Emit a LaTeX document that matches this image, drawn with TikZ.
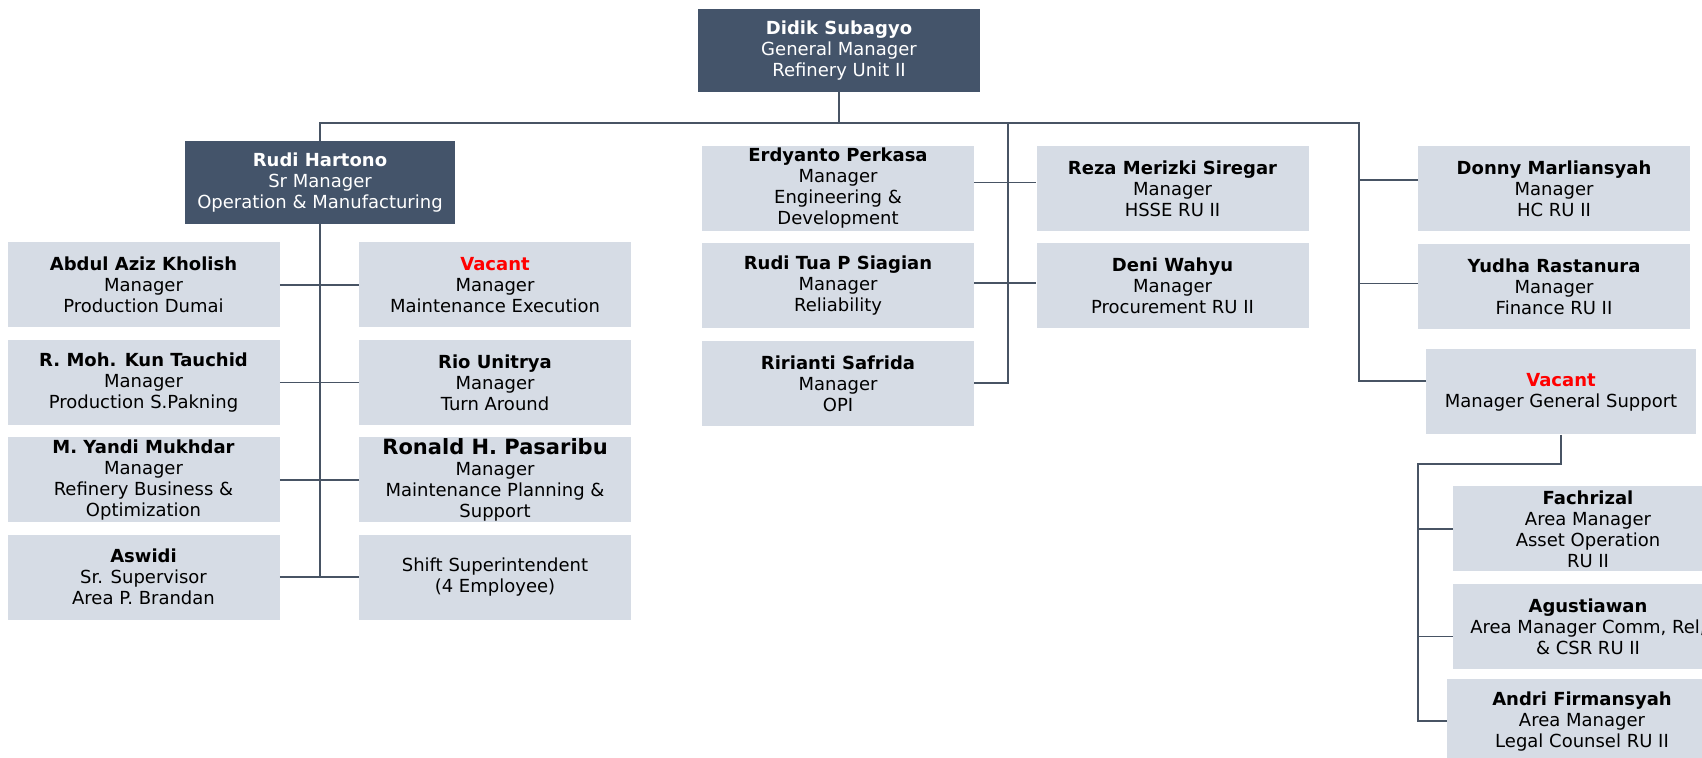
\documentclass[tikz,border=0pt]{standalone}
\usepackage{fontspec}
\setmainfont{DejaVu Sans}
\usepackage{xcolor}
\usetikzlibrary{positioning}
\definecolor{HeadFill}{RGB}{68,84,106}
\definecolor{PostFill}{RGB}{214,220,229}
\definecolor{LinkGray}{RGB}{72,84,100}
\definecolor{VacantRed}{RGB}{255,0,0}

\begin{document}
\begin{tikzpicture}[
  x=0.5pt, y=-0.5pt,
  node distance=5.8pt and 5pt,
  head/.style={
    rectangle,
    fill=HeadFill,
    text=white,
    align=center,
    inner sep=0pt,
    minimum width=135pt,
    minimum height=41.5pt,
    font=\fontsize{9}{10.5}\selectfont
  },
  post/.style={
    rectangle,
    fill=PostFill,
    align=center,
    inner sep=0pt,
    minimum width=136pt,
    minimum height=42.5pt,
    font=\fontsize{9}{10.5}\selectfont
  },
  link/.style={draw=LinkGray, line width=0.8pt}
]
\clip (0,0) rectangle (1702,758);
\fill[white] (0,0) rectangle (1702,758);

\node[head, minimum width=141pt] (gm) at (839,50.5) {\textbf{Didik Subagyo}\\General Manager\\Refinery Unit II};
\node[head] (om) at (320,182.5) {\textbf{Rudi Hartono}\\Sr Manager\\Operation \& Manufacturing};

\node[post] (dumai) at (143.5,285) {\textbf{Abdul Aziz Kholish}\\Manager\\Production Dumai};
\node[post, below=of dumai] (pakning) {\textbf{R. Moh. Kun Tauchid}\\Manager\\Production S.Pakning};
\node[post, below=of pakning] (rbo) {\textbf{M. Yandi Mukhdar}\\Manager\\Refinery Business \&\\Optimization};
\node[post, below=of rbo] (brandan) {\textbf{Aswidi}\\Sr. Supervisor\\Area P. Brandan};

\node[post] (mex) at (495,285) {\textbf{\textcolor{VacantRed}{Vacant}}\\Manager\\Maintenance Execution};
\node[post, below=of mex] (ta) {\textbf{Rio Unitrya}\\Manager\\Turn Around};
\node[post, below=of ta] (mps) {{\fontsize{10.5}{11.5}\selectfont\textbf{Ronald H. Pasaribu}}\\Manager\\Maintenance Planning \&\\Support};
\node[post, below=of mps] (shift) {Shift Superintendent\\(4 Employee)};

\node[post] (eng) at (838,188.5) {\textbf{Erdyanto Perkasa}\\Manager\\Engineering \&\\Development};
\node[post, below=of eng] (rel) {\textbf{Rudi Tua P Siagian}\\Manager\\Reliability};
\node[post, below=of rel] (opi) {\textbf{Ririanti Safrida}\\Manager\\OPI};

\node[post] (hsse) at (1172.5,188.5) {\textbf{Reza Merizki Siregar}\\Manager\\HSSE RU II};
\node[post, below=of hsse] (proc) {\textbf{Deni Wahyu}\\Manager\\Procurement RU II};

\node[post] (hc) at (1554,189) {\textbf{Donny Marliansyah}\\Manager\\HC RU II};
\node[post, below=of hc] (fin) {\textbf{Yudha Rastanura}\\Manager\\Finance RU II};
\node[post, minimum width=135pt] (gsm) at (1561,392) {\textbf{\textcolor{VacantRed}{Vacant}}\\Manager General Support};

\node[post, minimum width=135pt] (asset) at (1588,529) {\textbf{Fachrizal}\\Area Manager\\Asset Operation\\RU II};
\node[post, minimum width=135pt, below=of asset] (csr) {\textbf{Agustiawan}\\Area Manager Comm, Rel,\\\& CSR RU II};
\node[post, minimum width=135pt, below=4.5pt of csr, xshift=-3pt] (legal) {\textbf{Andri Firmansyah}\\Area Manager\\Legal Counsel RU II};

\coordinate (midbus) at (1008,123);
\coordinate (rightbus) at (1359,123);
\coordinate (gsbus) at (1418,464);

\draw[link] (gm.south) -- (gm.south |- rightbus);
\draw[link] (om.north) |- (rightbus) |- ([yshift=5.5pt]gsm.west);
\draw[link] (midbus) |- (opi.east);
\draw[link] ([yshift=3pt]eng.east) -- ([yshift=3pt]hsse.west);
\draw[link] ([yshift=1.5pt]rel.east) -- ([yshift=1.5pt]proc.west);
\draw[link] (rightbus |- hc.west) ++(0,-9) -- ([yshift=4.5pt]hc.west);
\draw[link] (rightbus |- fin.west) ++(0,-3) -- ([yshift=1.5pt]fin.west);

\draw[link] (om.south) -- (om.south |- shift.west);
\draw[link] (dumai.east) -- (mex.west);
\draw[link] (pakning.east) -- (ta.west);
\draw[link] (rbo.east) -- (mps.west);
\draw[link] (brandan.east) -- (shift.west);

\draw[link] (gsm.south) |- (gsbus) |- (legal.west);
\draw[link] (gsbus |- asset.west) -- (asset.west);
\draw[link] (gsbus |- csr.west) ++(0,10) -- ([yshift=-5pt]csr.west);
\end{tikzpicture}
\end{document}
